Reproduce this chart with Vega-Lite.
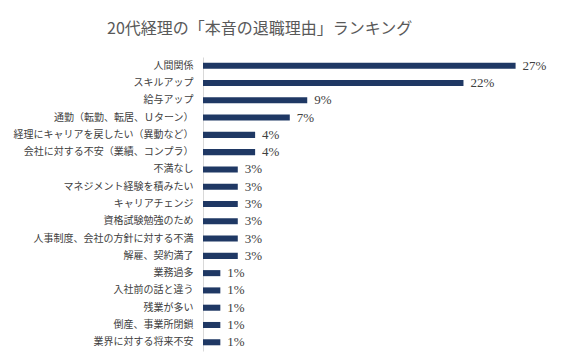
{
  "$schema": "https://vega.github.io/schema/vega-lite/v6.json",
  "autosize": {"type": "none"},
  "width": 349,
  "height": 294,
  "padding": {"left": 203, "top": 57, "right": 9, "bottom": 6},
  "background": "white",
  "title": {
    "text": "20代経理の「本音の退職理由」ランキング",
    "anchor": "start",
    "frame": "group",
    "dx": -96,
    "offset": 20,
    "font": "Noto Sans CJK JP",
    "fontSize": 16,
    "fontWeight": "normal",
    "color": "#595959"
  },
  "data": {
    "values": [
      {"reason": "人間関係", "value": 0.2687},
      {"reason": "スキルアップ", "value": 0.2239},
      {"reason": "給与アップ", "value": 0.0896},
      {"reason": "通勤（転勤、転居、Ｕターン）", "value": 0.0746},
      {"reason": "経理にキャリアを戻したい（異動など）", "value": 0.0448},
      {"reason": "会社に対する不安（業績、コンプラ）", "value": 0.0448},
      {"reason": "不満なし", "value": 0.0299},
      {"reason": "マネジメント経験を積みたい", "value": 0.0299},
      {"reason": "キャリアチェンジ", "value": 0.0299},
      {"reason": "資格試験勉強のため", "value": 0.0299},
      {"reason": "人事制度、会社の方針に対する不満", "value": 0.0299},
      {"reason": "解雇、契約満了", "value": 0.0299},
      {"reason": "業務過多", "value": 0.0149},
      {"reason": "入社前の話と違う", "value": 0.0149},
      {"reason": "残業が多い", "value": 0.0149},
      {"reason": "倒産、事業所閉鎖", "value": 0.0149},
      {"reason": "業界に対する将来不安", "value": 0.0149}
    ]
  },
  "encoding": {
    "y": {
      "field": "reason",
      "type": "nominal",
      "sort": null,
      "scale": {"paddingInner": 0.65, "paddingOuter": 0.33},
      "axis": {
        "title": null,
        "ticks": false,
        "labelPadding": 10,
        "labelLimit": 300,
        "labelFont": "Noto Sans CJK JP",
        "labelFontSize": 10,
        "labelColor": "#404040",
        "domainColor": "#d9d9d9",
        "domainWidth": 1
      }
    },
    "x": {
      "field": "value",
      "type": "quantitative",
      "scale": {"domain": [0, 0.3], "nice": false},
      "axis": null
    }
  },
  "layer": [
    {"mark": {"type": "bar", "color": "#1F3864"}},
    {
      "mark": {
        "type": "text",
        "align": "left",
        "baseline": "middle",
        "dx": 7,
        "font": "Liberation Serif",
        "fontSize": 13,
        "color": "#404040"
      },
      "encoding": {
        "text": {"field": "value", "type": "quantitative", "format": ".0%"}
      }
    }
  ],
  "config": {"view": {"stroke": null}}
}
